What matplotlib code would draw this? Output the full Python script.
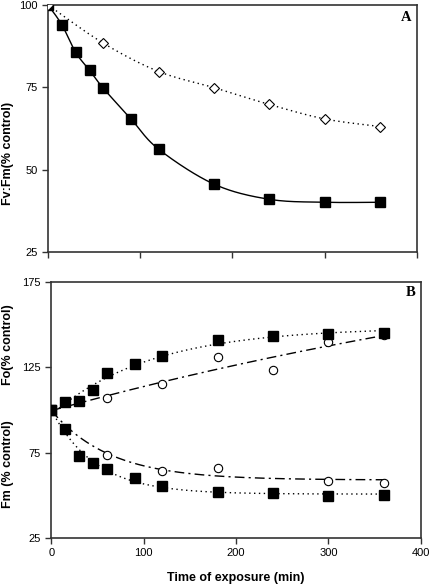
import numpy as np
import matplotlib.pyplot as plt

#panel A data: Fv:Fm (% control)
t_sq_a = [0, 15, 30, 45, 60, 90, 120, 180, 240, 300, 360]
fvfm_sq = [100, 94.0, 85.6, 80.2, 74.7, 65.4, 56.2, 45.6, 41.0, 40.1, 40.1]
t_dia_a = [0, 60, 120, 180, 240, 300, 360]
fvfm_dia = [100, 88.4, 79.8, 74.9, 69.8, 65.4, 63.1]

#panel B data: Fo and Fm (% control)
t_sq_b = [0, 15, 30, 45, 60, 90, 120, 180, 240, 300, 360]
fo_sq = [100, 104.4, 105.5, 111.5, 121.5, 127.0, 131.4, 140.9, 143.4, 144.7, 145.1]
fm_sq = [100, 88.7, 72.9, 69.1, 65.2, 60.4, 55.2, 51.7, 51.3, 49.7, 50.3]
t_circ_fo = [0, 60, 120, 180, 240, 300, 360]
fo_circ = [100, 107.1, 115.4, 130.8, 123.5, 139.9, 143.8]
t_circ_fm = [0, 60, 120, 180, 300, 360]
fm_circ = [100, 73.5, 64.2, 65.8, 58.1, 57.5]

plt.rcParams['font.family'] = ['Liberation Sans', 'DejaVu Sans']


#smoothed line through the points (like a spreadsheet "smoothed line")
def smooth(x, y, n=30):
    x = np.asarray(x, float)
    y = np.asarray(y, float)
    px = np.concatenate([[x[0]], x, [x[-1]]])
    py = np.concatenate([[y[0]], y, [y[-1]]])
    xs, ys = [], []
    s = np.linspace(0, 1, n)
    for i in range(1, len(px) - 2):
        for p, out in ((px, xs), (py, ys)):
            p0, p1, p2, p3 = p[i - 1], p[i], p[i + 1], p[i + 2]
            out.extend(0.5 * (2 * p1 + (-p0 + p2) * s
                              + (2 * p0 - 5 * p1 + 4 * p2 - p3) * s ** 2
                              + (-p0 + 3 * p1 - 3 * p2 + p3) * s ** 3))
    return np.array(xs), np.array(ys)


#saturating exponential trend line y = a + b*exp(-k*t)
def trend(x, y):
    x = np.asarray(x, float)
    y = np.asarray(y, float)
    best = None
    for k in np.logspace(-4, -0.5, 400):
        A = np.column_stack([np.ones_like(x), np.exp(-k * x)])
        c, res, _, _ = np.linalg.lstsq(A, y, rcond=None)
        err = np.sum((A @ c - y) ** 2)
        if best is None or err < best[0]:
            best = (err, k, c)
    _, k, c = best
    xx = np.linspace(x.min(), x.max(), 200)
    return xx, c[0] + c[1] * np.exp(-k * xx)


def style_axes(ax):
    for s in ax.spines.values():
        s.set_linewidth(1.2)
        s.set_color('#333333')
    ax.tick_params(direction='out', length=4, width=1, colors='#333333',
                   labelsize=8, labelcolor='black')


fig = plt.figure(figsize=(4.29, 5.87), dpi=100)

#panel A
ax1 = fig.add_axes([0.1119, 0.5707, 0.860, 0.4208])
xs, ys = smooth(t_sq_a, fvfm_sq)
ax1.plot(xs, ys, color='black', lw=1)
xs, ys = smooth(t_dia_a, fvfm_dia)
ax1.plot(xs, ys, color='black', lw=1, ls=(0, (1, 2.5)))
ax1.plot(t_sq_a, fvfm_sq, 's', color='black', ms=7, zorder=3)
ax1.plot(t_dia_a, fvfm_dia, 'D', mfc='white', mec='black', mew=0.8, ms=5.5, zorder=3)
ax1.set_xlim(0, 400)
ax1.set_ylim(25, 100)
ax1.set_xticks([0, 100, 200, 300, 400])
ax1.set_xticklabels([])
ax1.set_yticks([25, 50, 75, 100])
style_axes(ax1)
ax1.text(0.985, 0.975, 'A', transform=ax1.transAxes, ha='right', va='top',
         fontsize=10.5, fontweight='bold', family='Liberation Serif')

#panel B
ax2 = fig.add_axes([0.120, 0.0835, 0.8606, 0.4361])
dot = (0, (1, 2.5))
dash_dot = (0, (7, 3, 1.5, 3))
for t, v, ls in ((t_sq_b, fo_sq, dot), (t_sq_b, fm_sq, dot),
                 (t_circ_fo, fo_circ, dash_dot), (t_circ_fm, fm_circ, dash_dot)):
    xs, ys = trend(t, v)
    ax2.plot(xs, ys, color='black', lw=1, ls=ls)
ax2.plot(t_circ_fo, fo_circ, 'o', mfc='white', mec='black', mew=0.8, ms=6, zorder=3)
ax2.plot(t_circ_fm, fm_circ, 'o', mfc='white', mec='black', mew=0.8, ms=6, zorder=3)
ax2.plot(t_sq_b, fo_sq, 's', color='black', ms=7, zorder=4)
ax2.plot(t_sq_b, fm_sq, 's', color='black', ms=7, zorder=4)
ax2.set_xlim(0, 400)
ax2.set_ylim(25, 175)
ax2.set_xticks([0, 100, 200, 300, 400])
ax2.set_yticks([25, 75, 125, 175])
style_axes(ax2)
ax2.text(0.985, 0.985, 'B', transform=ax2.transAxes, ha='right', va='top',
         fontsize=10.5, fontweight='bold', family='Liberation Serif')
ax2.set_xlabel('Time of exposure (min)', fontsize=9, fontweight='bold', labelpad=10)

#y labels
fig.text(0.018, 1 - 153 / 587, 'Fv:Fm(% control)', rotation=90, ha='center', va='center',
         fontsize=9, fontweight='bold')
fig.text(0.018, 1 - 345 / 587, 'Fo(% control)', rotation=90, ha='center', va='center',
         fontsize=9, fontweight='bold')
fig.text(0.018, 1 - 464 / 587, 'Fm (% control)', rotation=90, ha='center', va='center',
         fontsize=9, fontweight='bold')

plt.savefig('out.png', dpi=100)
